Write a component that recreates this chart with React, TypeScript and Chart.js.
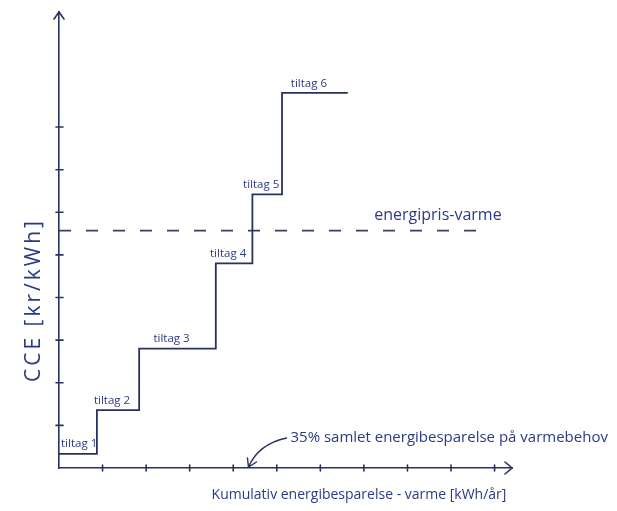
import { useEffect, useRef } from 'react';
import { Chart, registerables } from 'chart.js';

Chart.register(...registerables);

// ---- data ----
const measures = ['tiltag 1', 'tiltag 2', 'tiltag 3', 'tiltag 4', 'tiltag 5', 'tiltag 6'];
const stepStart = [0, 0.87, 1.84, 3.6, 4.44, 5.12];
const stepEndLast = 6.63;
const cce = [0.33, 1.36, 2.8, 4.8, 6.42, 8.8];
const energyPrice = 5.57;
const priceLineEnd = 9.85;
const priceLabel = 'energipris-varme';
const xTicks = [1, 2, 3, 4, 5, 6, 7, 8, 9, 10];
const yTicks = [1, 2, 3, 4, 5, 6, 7, 8];
const xMax = 10.4;
const yMax = 10.7;
const savingsMarkX = 4.35;
const savingsNote = '35% samlet energibesparelse på varmebehov';
const xTitle = 'Kumulativ energibesparelse - varme [kWh/år]';
const yTitle = 'CCE [kr/kWh]';

const INK = '#28325e';
const TEXT = '#2b3a86';
const FONT = '"Open Sans", "DejaVu Sans", sans-serif';

const decorPlugin = {
  id: 'decor',
  afterDatasetsDraw(chart: any) {
    const { ctx, scales } = chart;
    const x = scales.x;
    const y = scales.y;
    const x0 = x.getPixelForValue(0);
    const y0 = y.getPixelForValue(0);
    ctx.save();
    ctx.strokeStyle = INK;
    ctx.lineWidth = 1.6;
    ctx.lineCap = 'round';
    // tick marks crossing the axes
    xTicks.forEach((t) => {
      const px = x.getPixelForValue(t);
      ctx.beginPath();
      ctx.moveTo(px, y0 - 3);
      ctx.lineTo(px, y0 + 3);
      ctx.stroke();
    });
    yTicks.forEach((t) => {
      const py = y.getPixelForValue(t);
      ctx.beginPath();
      ctx.moveTo(x0 - 3, py);
      ctx.lineTo(x0 + 4, py);
      ctx.stroke();
    });
    // arrow heads
    const ty = y.getPixelForValue(yMax);
    ctx.beginPath();
    ctx.moveTo(x0 - 5, ty + 7);
    ctx.lineTo(x0, ty);
    ctx.lineTo(x0 + 5, ty + 7);
    ctx.stroke();
    const tx = x.getPixelForValue(xMax);
    ctx.beginPath();
    ctx.moveTo(tx - 7, y0 - 6);
    ctx.lineTo(tx, y0);
    ctx.lineTo(tx - 7, y0 + 6);
    ctx.stroke();

    // step labels
    ctx.fillStyle = TEXT;
    ctx.font = `11.5px ${FONT}`;
    ctx.textAlign = 'center';
    ctx.textBaseline = 'bottom';
    measures.forEach((m, i) => {
      const a = x.getPixelForValue(stepStart[i]);
      const b = x.getPixelForValue(i + 1 < stepStart.length ? stepStart[i + 1] : stepEndLast);
      const py = y.getPixelForValue(cce[i]);
      const w = ctx.measureText(m).width;
      const cx = Math.max(x0 + w / 2 + 2, (a + b) / 2 - 6);
      ctx.fillText(m, cx, py - 4);
    });

    // energy price label
    ctx.font = `16px ${FONT}`;
    ctx.fillText(priceLabel, x.getPixelForValue(8.7), y.getPixelForValue(energyPrice) - 7);

    // savings note + curved arrow
    const ax = x.getPixelForValue(savingsMarkX);
    ctx.font = `15px ${FONT}`;
    ctx.textAlign = 'left';
    ctx.textBaseline = 'middle';
    ctx.fillText(savingsNote, ax + 42, y0 - 30);
    ctx.strokeStyle = INK;
    ctx.lineWidth = 1.4;
    ctx.beginPath();
    ctx.moveTo(ax + 38, y0 - 30);
    ctx.quadraticCurveTo(ax + 10, y0 - 24, ax, y0 - 1);
    ctx.stroke();
    ctx.beginPath();
    ctx.moveTo(ax - 1, y0 - 10);
    ctx.lineTo(ax, y0 - 1);
    ctx.lineTo(ax + 8, y0 - 6);
    ctx.stroke();

    // axis titles
    ctx.fillStyle = TEXT;
    ctx.font = `14px ${FONT}`;
    ctx.textAlign = 'center';
    ctx.textBaseline = 'middle';
    ctx.fillText(xTitle, 359, y0 + 27);
    ctx.save();
    ctx.translate(34, 300);
    ctx.rotate(-Math.PI / 2);
    (ctx as any).letterSpacing = '3px';
    ctx.font = `21px ${FONT}`;
    ctx.fillText(yTitle, 0, 0);
    ctx.restore();
    ctx.restore();
  },
};

export default function App() {
  const ref = useRef<HTMLCanvasElement | null>(null);
  useEffect(() => {
    document.body.style.margin = '0';
    const canvas = ref.current;
    if (!canvas) return;
    const stepPts = stepStart.map((s, i) => ({ x: s, y: cce[i] }));
    stepPts.push({ x: stepEndLast, y: cce[cce.length - 1] });
    const chart = new Chart(canvas, {
      type: 'line',
      data: {
        datasets: [
          {
            label: 'CCE',
            data: stepPts,
            stepped: 'before',
            borderColor: INK,
            borderWidth: 1.8,
            pointRadius: 0,
            fill: false,
          },
          {
            label: priceLabel,
            data: [
              { x: 0, y: energyPrice },
              { x: priceLineEnd, y: energyPrice },
            ],
            borderColor: '#354070',
            borderWidth: 1.6,
            borderDash: [12, 15],
            pointRadius: 0,
            fill: false,
          },
        ],
      },
      options: {
        animation: false,
        responsive: false,
        devicePixelRatio: 1,
        events: [],
        layout: { padding: { left: 59, right: 105, top: 12, bottom: 43 } },
        plugins: { legend: { display: false }, tooltip: { enabled: false } },
        scales: {
          x: {
            type: 'linear',
            min: 0,
            max: xMax,
            grid: { display: false, drawTicks: false },
            ticks: { display: false },
            border: { display: true, color: INK, width: 1.6 },
          },
          y: {
            type: 'linear',
            min: 0,
            max: yMax,
            grid: { display: false, drawTicks: false },
            ticks: { display: false },
            border: { display: true, color: INK, width: 1.6 },
          },
        },
      },
      plugins: [decorPlugin],
    });
    return () => chart.destroy();
  }, []);
  return (
    <div style={{ width: 617, height: 511, background: '#fff' }}>
      <canvas ref={ref} width={617} height={511} style={{ display: 'block' }} />
    </div>
  );
}
